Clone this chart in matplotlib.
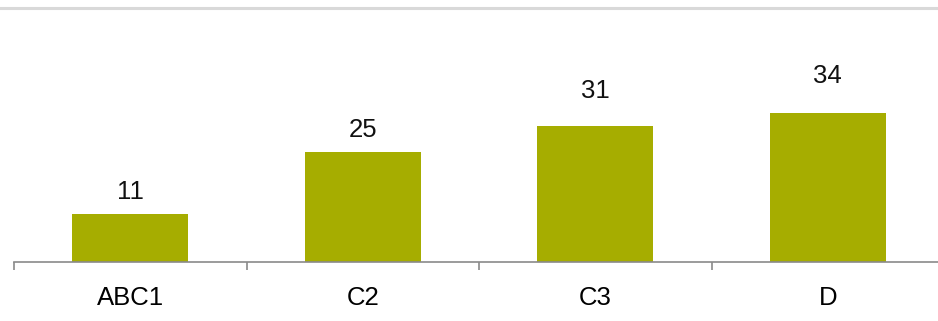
import matplotlib.pyplot as plt
from matplotlib.lines import Line2D

plt.rcParams['font.family'] = ['Liberation Sans', 'DejaVu Sans']

categories = ['ABC1', 'C2', 'C3', 'D']
values = [11, 25, 31, 34]

# gap between bar top and its value label, in points (as placed in the original)
label_gap = [10.8, 11.2, 20.4, 21.2]

W, H = 938, 321
fig = plt.figure(figsize=(W / 100, H / 100), dpi=100)
ax = fig.add_axes([14 / W, (H - 262.3) / H, (944 - 14) / W, (262.3 - 7.5) / H])

x = list(range(len(categories)))
bars = ax.bar(x, values, width=0.5, color='#a6ad00')
for b, v, g in zip(bars, values, label_gap):
    ax.annotate(str(v), (b.get_x() + b.get_width() / 2, v), xytext=(0, g),
                textcoords='offset points', ha='center', va='baseline',
                fontsize=18.5, color='#111111')

ax.set_xlim(-0.5, len(categories) - 0.5)
ax.set_ylim(0, 58)
ax.set_xticks(x)
ax.set_xticklabels(categories, fontsize=18.5)
ax.set_xticks([i - 0.5 for i in x], minor=True)
ax.tick_params(axis='x', which='major', length=0, pad=17)
ax.tick_params(axis='x', which='minor', length=6, color='#8a8a8a', width=1.2)
ax.set_yticks([])
for s in ['left', 'right', 'top']:
    ax.spines[s].set_visible(False)
ax.spines['bottom'].set_color('#8a8a8a')
ax.spines['bottom'].set_linewidth(1.2)

# light gray rule at the top of the plot
y_top = (H - 7.5) / H
fig.add_artist(Line2D([0, 1], [y_top, y_top], color='#d9d9d9', lw=2.2))

fig.savefig('out.png', dpi=100)
